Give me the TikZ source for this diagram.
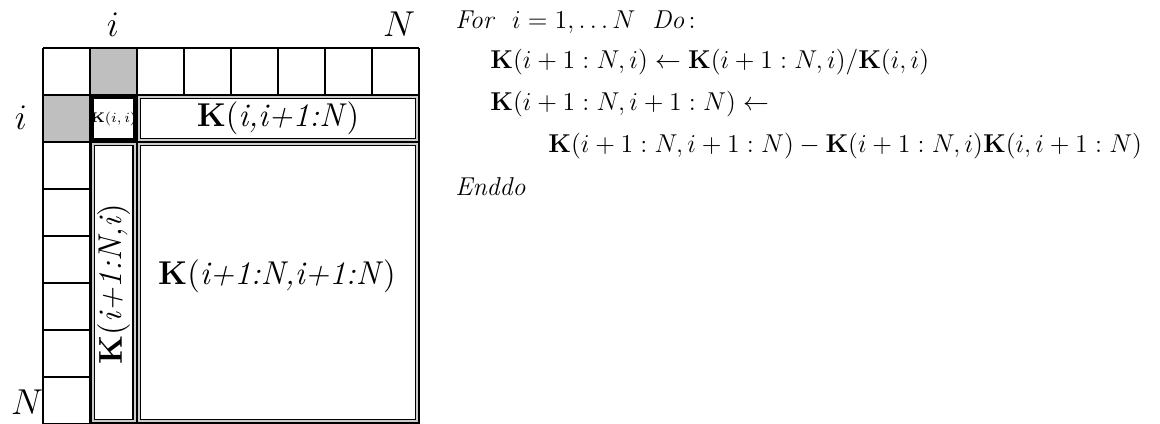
\RequirePackage{fix-cm}
\documentclass[tikz,border=0pt]{standalone}
\usepackage{amsmath}
\usetikzlibrary{positioning}
\newcommand{\Kmat}{\mathbf{K}}
\newcommand{\subidx}[1]{\textit{#1}}

\begin{document}
\begin{tikzpicture}[x=0.5pt,y=-0.5pt,
  gridline/.style={draw=black,line width=0.95pt},
  pivotcell/.style={fill=gray!50},
  blockbox/.style={draw=black,line width=0.55pt,double=gray!40,double distance=1pt,fill=white},
  diagbox/.style={draw=black,line width=1.3pt,fill=white},
  axlabel/.style={font=\fontsize{18}{21}\selectfont},
  blocklabel/.style={font=\fontsize{16.5}{19}\selectfont,inner sep=0pt},
  algline/.style={anchor=base west,inner sep=0pt,font=\fontsize{12.9}{15}\selectfont}]
  \useasboundingbox (0,0) rectangle (1160,423);
  % --- the 8x8 matrix grid (bottom edge runs off the picture) ---
  \fill[pivotcell] (90,48) rectangle (137,95);
  \fill[pivotcell] (43,95) rectangle (90,142);
  \foreach \k in {0,...,8} {
    \draw[gridline] (43+47*\k,48) -- (43+47*\k,424);
    \draw[gridline] (43,48+47*\k) -- (419,48+47*\k);
  }
  % --- blocks of step i ---
  \draw[diagbox] (92.5,97.5) rectangle (134.5,139.5);
  \node[inner sep=0pt,font=\fontsize{7}{8}\selectfont] (kii) at (113.5,118.5)
       {$\Kmat(i,i)$};
  \draw[blockbox] (139,97) rectangle (417,140);
  \node[blocklabel] (krow) at (278,118) {$\Kmat($\subidx{i,i+1:N}$)$};
  \draw[blockbox] (92.5,144) rectangle (134.5,421);
  \node[blocklabel,rotate=90] (kcol) at (113.5,284) {$\Kmat($\subidx{i+1:N,i}$)$};
  \draw[blockbox] (139,144) rectangle (417,421);
  \node[blocklabel] (kblk) at (277,276) {$\Kmat($\subidx{i+1:N,i+1:N}$)$};
  % --- index labels round the grid ---
  \node[axlabel] (topi) at (113,25) {$i$};
  \node[axlabel] (topn) at (399,24) {$N$};
  \node[axlabel] (lefti) at (21,118) {$i$};
  \node[axlabel] (leftn) at (27,402) {$N$};
  % --- the algorithm ---
  \node[algline] (lfor) at (455,28) {\textit{For} \ $i=1,\ldots N$ \ \textit{Do}$\,:$};
  \node[algline] (lcol) at (490,68)
       {$\Kmat(i+1:N,i)\leftarrow\Kmat(i+1:N,i)/\Kmat(i,i)$};
  \node[algline] (lupd) at (490,110) {$\Kmat(i+1:N,i+1:N)\leftarrow$};
  \node[algline] (lrhs) at (548,152)
       {$\Kmat(i+1:N,i+1:N)-\Kmat(i+1:N,i)\Kmat(i,i+1:N)$};
  \node[algline] (lend) at (455,195) {\textit{Enddo}};
\end{tikzpicture}
\end{document}
